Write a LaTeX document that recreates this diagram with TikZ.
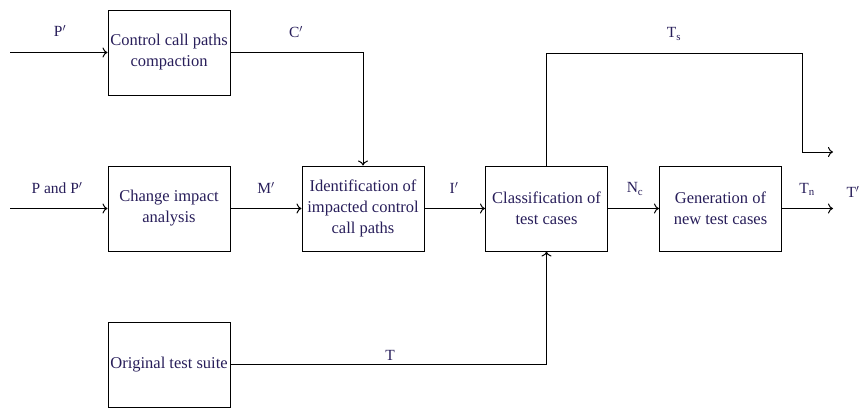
\documentclass[tikz,border=0pt]{standalone}
\usepackage{fontspec}
\setmainfont{Liberation Serif}
\usetikzlibrary{arrows.meta}
\definecolor{txt}{RGB}{40,30,90}
\begin{document}
\begin{tikzpicture}[x=1pt,y=-1pt,
  blk/.style={draw, line width=1pt, minimum width=122pt, minimum height=85pt, align=center,
    font=\fontsize{16.5}{21}\selectfont, text=txt, inner sep=0pt},
  lbl/.style={font=\fontsize{15.5}{17}\selectfont, text=txt, inner sep=0pt},
  conn/.style={line width=1pt, -{To[length=5pt,width=10pt]}}]
\useasboundingbox (0,0) rectangle (863,408);
\node[blk] (b1) at (169,52.5) {Control call paths\\compaction};
\node[blk] (b2) at (169,208.5) {Change impact\\analysis};
\node[blk] (b3) at (363,208.5) {Identification of\\impacted control\\call paths};
\node[blk] (b4) at (546.5,208.5) {Classification of\\test cases};
\node[blk] (b5) at (720.5,208.5) {Generation of\\new test cases};
\node[blk] (b6) at (169,364.5) {Original test suite};
\coordinate (in1) at (10,52.5);
\coordinate (in2) at (10,208.5);
\coordinate (ts1) at (802,53);
\coordinate (tsend) at (833,152);
\coordinate (tout) at (833,208.5);
\draw[conn] (in1) -- (b1.west);
\draw[conn] (in2) -- (b2.west);
\draw[conn] (b2.east) -- (b3.west);
\draw[conn] (b3.east) -- (b4.west);
\draw[conn] (b4.east) -- (b5.west);
\draw[conn] (b5.east) -- (tout);
\draw[conn] (b1.east) -| (b3.north);
\draw[conn] (b4.north) |- (ts1) |- (tsend);
\draw[conn] (b6.east) -| (b4.south);
\node[lbl] (lp1) at (60,31) {P$'$};
\node[lbl] (lc) at (296,32) {C$'$};
\node[lbl] (lpp) at (57,188) {P and P$'$};
\node[lbl] (lm) at (266,188) {M$'$};
\node[lbl] (li) at (454,188) {I$'$};
\node[lbl] (lnc) at (635,189) {N\textsubscript{c}};
\node[lbl] (ltn) at (807,189) {T\textsubscript{n}};
\node[lbl] (ltp) at (853,192) {T$'$};
\node[lbl] (lts) at (674,34) {T\textsubscript{s}};
\node[lbl] (lt) at (390,355) {T};
\end{tikzpicture}
\end{document}
